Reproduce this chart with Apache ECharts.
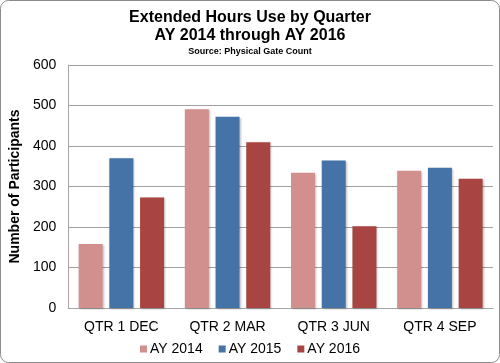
<!DOCTYPE html>
<html><head><meta charset="utf-8">
<script src="https://cdn.jsdelivr.net/npm/echarts@6/dist/echarts.min.js"></script>
<style>html,body{margin:0;padding:0;background:#fff}#c{width:500px;height:363px}</style>
</head><body><div id="c"></div>
<script>
const categories = ['QTR 1 DEC', 'QTR 2 MAR', 'QTR 3 JUN', 'QTR 4 SEP'];
const ay2014 = [158, 491, 334, 339];
const ay2015 = [370, 472, 364, 346];
const ay2016 = [273, 409, 202, 319];
const seriesNames = ['AY 2014', 'AY 2015', 'AY 2016'];
const colors = ['#D18F8E', '#4572A7', '#A84543'];

const chart = echarts.init(document.getElementById('c'), null, {renderer: 'canvas'});
const font = 'Liberation Sans, Arial, sans-serif';
const mk = (name, data, color) => ({
  name, type: 'bar', data, barWidth: 24, barGap: '28%',
  itemStyle: {color, shadowColor: 'rgba(0,0,0,0.25)', shadowBlur: 2, shadowOffsetX: 1, shadowOffsetY: 1}
});
chart.setOption({
  animation: false,
  graphic: [{type: 'rect', shape: {x: 0.5, y: 0.5, width: 499, height: 362, r: 8}, style: {fill: 'none', stroke: '#8c8c8c', lineWidth: 1}}],
  title: [
    {text: 'Extended Hours Use by Quarter\nAY 2014 through AY 2016', left: 'center', top: 4,
     textStyle: {fontFamily: font, fontSize: 16, fontWeight: 'bold', color: '#000', lineHeight: 18}},
    {text: 'Source: Physical Gate Count', left: 'center', top: 42,
     textStyle: {fontFamily: font, fontSize: 9, fontWeight: 'bold', color: '#000'}}
  ],
  legend: {bottom: 2, left: 'center', itemWidth: 7, itemHeight: 7, itemGap: 16, icon: 'rect',
    textStyle: {fontFamily: font, fontSize: 14, color: '#000', padding: [0, 0, 0, -2]},
    data: seriesNames},
  grid: {left: 65, right: 7, top: 65, bottom: 55, containLabel: false},
  xAxis: {type: 'category', data: categories,
    axisLine: {lineStyle: {color: '#a6a6a6', width: 1}}, axisTick: {show: false},
    axisLabel: {fontFamily: font, fontSize: 14, color: '#000', margin: 12}},
  yAxis: {type: 'value', min: 0, max: 600, interval: 100,
    name: 'Number of Participants', nameLocation: 'middle', nameGap: 45, nameRotate: 90,
    nameTextStyle: {fontFamily: font, fontSize: 14, fontWeight: 'bold', color: '#000'},
    axisLine: {show: true, lineStyle: {color: '#a6a6a6'}}, axisTick: {show: false},
    splitLine: {lineStyle: {color: '#a0a0a0', width: 1}},
    axisLabel: {fontFamily: font, fontSize: 14, color: '#000', margin: 12}},
  series: [mk(seriesNames[0], ay2014, colors[0]), mk(seriesNames[1], ay2015, colors[1]), mk(seriesNames[2], ay2016, colors[2])]
});
</script></body></html>
